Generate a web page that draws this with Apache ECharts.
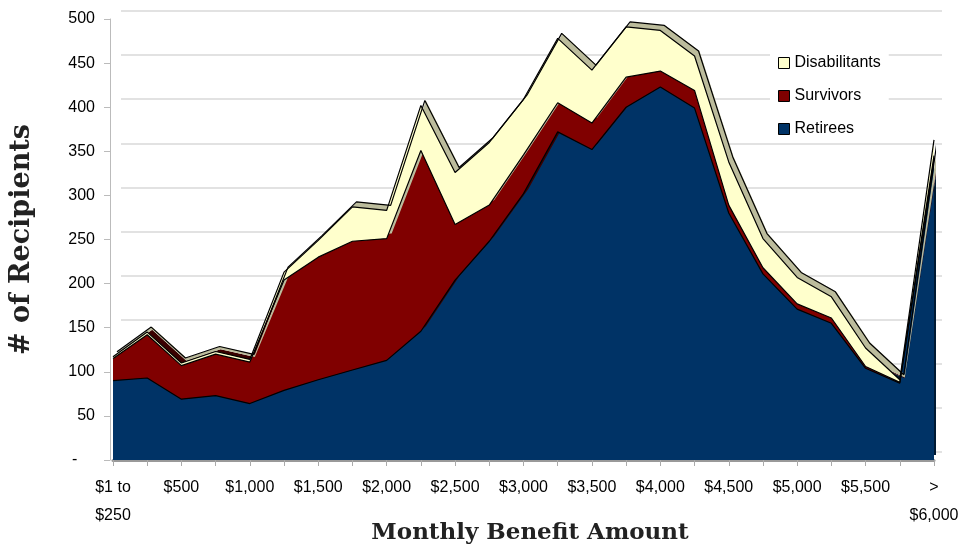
<!DOCTYPE html>
<html>
<head>
<meta charset="utf-8">
<script src="https://cdn.jsdelivr.net/npm/echarts@6/dist/echarts.min.js"></script>
<style>
  html, body { margin: 0; padding: 0; background: #fff; }
  #chart { width: 958px; height: 545px; }
</style>
</head>
<body>
<div id="chart"></div>
<script>
var categories = [
  "$1 to\n$250", "$250 to $500", "$500", "$750", "$1,000", "$1,250", "$1,500",
  "$1,750", "$2,000", "$2,250", "$2,500", "$2,750", "$3,000", "$3,250",
  "$3,500", "$3,750", "$4,000", "$4,250", "$4,500", "$4,750", "$5,000",
  "$5,250", "$5,500", "$5,750", ">\n$6,000"
];
var retirees = [90, 93, 69, 73, 64, 79, 91, 102, 113, 146, 204, 248, 302, 372, 352, 400, 423, 399, 280, 211, 171, 155, 104, 87, 341];
var survivors = [25, 49, 38, 47, 47, 125, 139, 146, 138, 205, 63, 41, 44, 33, 30, 34, 18, 20, 9, 7, 6, 6, 2, 1, 4];
var disabilitants = [2, 3, 3, 3, 3, 9, 19, 39, 32, 51, 59, 71, 63, 73, 60, 57, 46, 39, 49, 33, 30, 24, 21, 3, 18];
var yMax = 500;
var yStep = 50;

var chart = echarts.init(document.getElementById("chart"));

function areaSeries(name, data, color, sideColor, edge) {
  return {
    name: name,
    type: "line",
    stack: "total",
    data: data,
    symbol: "none",
    showSymbol: false,
    color: color,
    lineStyle: {
      color: "#000",
      width: 1.2,
      shadowColor: edge ? "#000" : "transparent",
      shadowOffsetX: edge ? 4 : 0,
      shadowOffsetY: edge ? -5 : 0
    },
    areaStyle: {
      color: color,
      opacity: 1,
      shadowColor: sideColor,
      shadowBlur: 0,
      shadowOffsetX: 5,
      shadowOffsetY: -5
    },
    emphasis: { disabled: true },
    xAxisIndex: 0,
    yAxisIndex: 0
  };
}

chart.setOption({
  animation: false,
  backgroundColor: "#fff",
  legend: {
    orient: "vertical",
    left: 770,
    top: 47,
    padding: [8, 8, 2, 8],
    backgroundColor: "#fff",
    itemWidth: 11,
    itemHeight: 11,
    itemGap: 17,
    icon: "rect",
    itemStyle: { borderColor: "#000", borderWidth: 1 },
    textStyle: { fontFamily: "Liberation Sans", fontSize: 16, color: "#000" },
    data: ["Disabilitants", "Survivors", "Retirees"]
  },
  grid: [
    { left: 113, right: 24, top: 19, bottom: 85, outerBoundsMode: "none" },
    // back wall for the gridlines
    { left: 121, right: 16, top: 11, bottom: 93, outerBoundsMode: "none" }
  ],
  xAxis: [
    {
      type: "category",
      gridIndex: 0,
      boundaryGap: false,
      data: categories,
      axisLine: { lineStyle: { color: "#999", width: 3 } },
      axisTick: { show: true, interval: 0, length: 6, lineStyle: { color: "#aaa" } },
      axisLabel: {
        interval: 1,
        margin: 14,
        fontFamily: "Liberation Sans",
        fontSize: 16,
        lineHeight: 28,
        color: "#000"
      },
      name: "Monthly Benefit Amount",
      nameLocation: "middle",
      nameGap: 62,
      nameMoveOverlap: false,
      nameTextStyle: {
        fontFamily: "DejaVu Serif",
        fontWeight: "bold",
        fontSize: 23,
        color: "#222",
        padding: [0, 0, 0, 13]
      }
    },
    { type: "value", gridIndex: 1, show: false, min: 0, max: 1 }
  ],
  yAxis: [
    {
      type: "value",
      gridIndex: 0,
      min: 0,
      max: yMax,
      interval: yStep,
      offset: 3,
      axisLine: { show: true, lineStyle: { color: "#bbb" } },
      axisTick: { show: true, length: 6, lineStyle: { color: "#bbb" } },
      splitLine: { show: false },
      axisLabel: {
        margin: 15,
        fontFamily: "Liberation Sans",
        fontSize: 16,
        color: "#000",
        formatter: function (v) { return v === 0 ? "-    " : String(v); }
      },
      name: "# of Recipients",
      nameLocation: "middle",
      nameGap: 75,
      nameMoveOverlap: false,
      nameRotate: 90,
      nameTextStyle: {
        fontFamily: "DejaVu Serif",
        fontWeight: "bold",
        fontSize: 27,
        color: "#222"
      }
    },
    {
      type: "value",
      gridIndex: 1,
      min: 0,
      max: yMax,
      interval: yStep,
      axisLine: { show: false },
      axisTick: { show: false },
      axisLabel: { show: false },
      splitLine: { show: true, lineStyle: { color: "#d9d9d9", width: 1.5 } }
    }
  ],
  series: [
    areaSeries("Retirees", retirees, "#003366", "#001a33", false),
    areaSeries("Survivors", survivors, "#800000", "#3a0000", false),
    areaSeries("Disabilitants", disabilitants, "#ffffcc", "#bcbc9c", true)
  ]
});
</script>
</body>
</html>
